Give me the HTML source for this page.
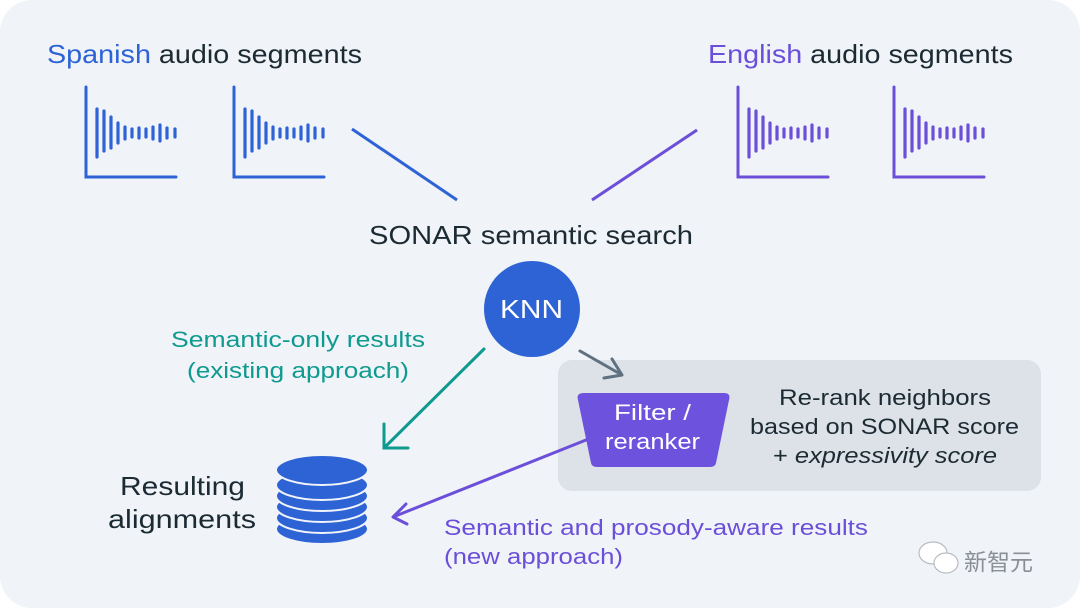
<!DOCTYPE html>
<html><head><meta charset="utf-8"><style>
html,body{margin:0;padding:0;background:#fff;}
svg{display:block;}
text{font-family:"Liberation Sans","Noto Sans CJK SC",sans-serif;}
</style></head><body>
<svg width="1080" height="608" viewBox="0 0 1080 608" xmlns="http://www.w3.org/2000/svg">
<defs>
<g id="wave">
<path d="M0,0 V90 H90" fill="none" stroke-width="3" stroke-linecap="round"/>
<g stroke-width="3.2" stroke-linecap="round">
<line x1="11" y1="22" x2="11" y2="70"/>
<line x1="18" y1="24" x2="18" y2="64"/>
<line x1="25" y1="30" x2="25" y2="61"/>
<line x1="32" y1="36" x2="32" y2="56"/>
<line x1="39" y1="40" x2="39" y2="52"/>
<line x1="46" y1="42" x2="46" y2="50"/>
<line x1="53" y1="41" x2="53" y2="51"/>
<line x1="60" y1="42" x2="60" y2="50"/>
<line x1="67" y1="40" x2="67" y2="52"/>
<line x1="74" y1="38" x2="74" y2="54"/>
<line x1="81" y1="41" x2="81" y2="51"/>
<line x1="89" y1="42" x2="89" y2="50"/>
</g>
</g>
</defs>
<rect x="0" y="0" width="1080" height="608" rx="32" fill="#f0f3f8"/>
<text x="47" y="63" font-size="26" textLength="315" lengthAdjust="spacingAndGlyphs"><tspan fill="#2e63d6">Spanish</tspan><tspan fill="#1c2b33"> audio segments</tspan></text>
<text x="708" y="63" font-size="26" textLength="305" lengthAdjust="spacingAndGlyphs"><tspan fill="#6b4fd8">English</tspan><tspan fill="#1c2b33"> audio segments</tspan></text>
<use href="#wave" x="86" y="87" stroke="#2e63d6"/>
<use href="#wave" x="234" y="87" stroke="#2e63d6"/>
<use href="#wave" x="738" y="87" stroke="#6b4fd8"/>
<use href="#wave" x="894" y="87" stroke="#6b4fd8"/>
<line x1="352" y1="129" x2="457" y2="200" stroke="#2e63d6" stroke-width="3"/>
<line x1="592" y1="200" x2="697" y2="130" stroke="#6b4fd8" stroke-width="3"/>
<text x="369" y="244" font-size="26" fill="#1c2b33" textLength="324" lengthAdjust="spacingAndGlyphs">SONAR semantic search</text>
<circle cx="532" cy="309" r="48" fill="#2e63d6"/>
<text x="500" y="318" font-size="26" fill="#fff" textLength="63" lengthAdjust="spacingAndGlyphs">KNN</text>
<text x="171" y="347" font-size="22" fill="#0e9a8f" textLength="254" lengthAdjust="spacingAndGlyphs">Semantic-only results</text>
<text x="187" y="378" font-size="22" fill="#0e9a8f" textLength="222" lengthAdjust="spacingAndGlyphs">(existing approach)</text>
<path d="M484,349 L384,448 M384,424 V448 H408" fill="none" stroke="#0e9a8f" stroke-width="3" stroke-linecap="round"/>
<rect x="558" y="360" width="483" height="131" rx="14" fill="#dde1e8"/>
<path d="M580,351 L622,375 M612,359 L622,375 L604,378" fill="none" stroke="#5f7080" stroke-width="3" stroke-linecap="round" stroke-linejoin="round"/>
<path d="M584,393 H724 Q731,393 729,400 L716,463 Q715,467 710,467 H597 Q592,467 591,463 L578,400 Q576,393 584,393 Z" fill="#6c52dc"/>
<text x="614" y="420" font-size="22" fill="#fff" textLength="77" lengthAdjust="spacingAndGlyphs">Filter /</text>
<text x="605" y="449" font-size="22" fill="#fff" textLength="95" lengthAdjust="spacingAndGlyphs">reranker</text>
<text x="779" y="405" font-size="22" fill="#1c2b33" textLength="212" lengthAdjust="spacingAndGlyphs">Re-rank neighbors</text>
<text x="750" y="434" font-size="22" fill="#1c2b33" textLength="269" lengthAdjust="spacingAndGlyphs">based on SONAR score</text>
<text x="773" y="463" font-size="22" fill="#1c2b33" textLength="224" lengthAdjust="spacingAndGlyphs">+ <tspan font-style="italic">expressivity score</tspan></text>
<path d="M586,440 L393,517 M406,504 L393,517 L407,524" fill="none" stroke="#6b4fd8" stroke-width="3" stroke-linecap="round" stroke-linejoin="round"/>
<g fill="#2e63d6" stroke="#f0f3f8" stroke-width="2">
<ellipse cx="322" cy="529" rx="46" ry="15"/>
<ellipse cx="322" cy="518" rx="46" ry="15"/>
<ellipse cx="322" cy="507" rx="46" ry="15"/>
<ellipse cx="322" cy="496" rx="46" ry="15"/>
<ellipse cx="322" cy="485" rx="46" ry="15"/>
<ellipse cx="322" cy="470" rx="46" ry="15"/>
</g>
<text x="120" y="495" font-size="26" fill="#1c2b33" textLength="125" lengthAdjust="spacingAndGlyphs">Resulting</text>
<text x="108" y="528" font-size="26" fill="#1c2b33" textLength="148" lengthAdjust="spacingAndGlyphs">alignments</text>
<text x="444" y="535" font-size="22" fill="#6b4fd8" textLength="424" lengthAdjust="spacingAndGlyphs">Semantic and prosody-aware results</text>
<text x="444" y="564" font-size="22" fill="#6b4fd8" textLength="179" lengthAdjust="spacingAndGlyphs">(new approach)</text>
<g fill="#fff" stroke="#b8bcc2" stroke-width="1.2">
<ellipse cx="933" cy="553" rx="14" ry="11"/>
<ellipse cx="946" cy="563" rx="12" ry="10"/>
</g>
<text x="964" y="570" font-size="23" fill="#8a8f95">新智元</text>
</svg>
</body></html>
